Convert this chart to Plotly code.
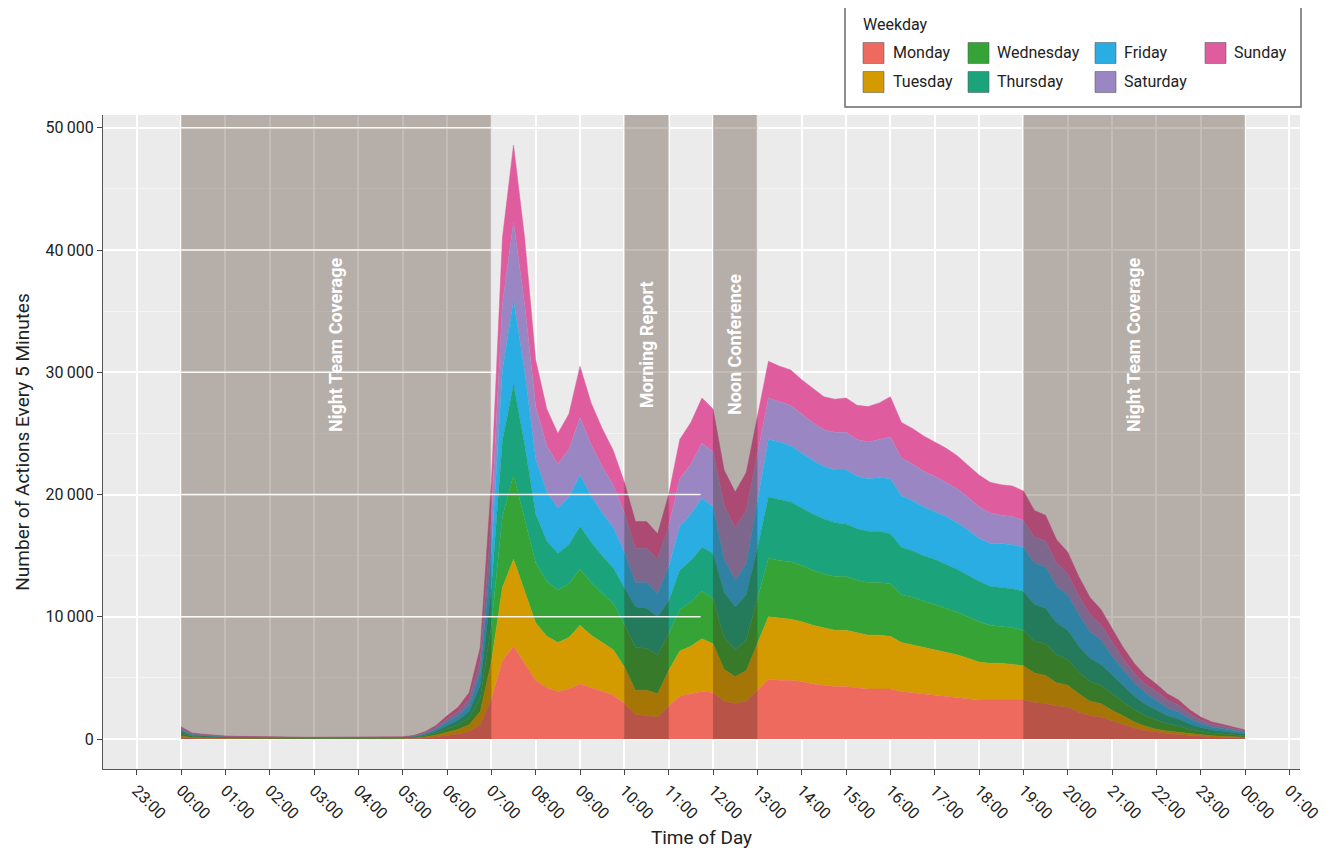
import plotly.graph_objects as go

# ---------------- data (actions per 5-min bin, sampled every 15 min, 00:00 .. 24:00) ----------------
time_hours = [i * 0.25 for i in range(97)]

monday = [130,70,55,40,35,30,30,25,25,25,20,20,20,20,25,20,20,20,25,20,
          25,45,90,170,300,420,620,1200,3300,6400,7600,6200,4800,4200,3900,4100,4500,4200,3900,3600,
          2900,2000,1900,1800,2700,3500,3700,3900,3800,3100,2900,3100,4000,4900,4800,4800,4700,4500,4400,4300,
          4300,4200,4100,4100,4100,3900,3800,3700,3600,3500,3400,3300,3200,3200,3200,3200,3200,3000,2900,2700,
          2600,2200,1900,1800,1500,1200,900,700,550,450,380,280,220,170,150,120,90]
tuesday = [120,60,55,40,35,30,25,25,25,20,20,25,20,20,20,20,25,20,20,20,
           25,40,85,155,270,370,540,1050,3000,6000,7100,5900,4700,4200,4000,4200,4800,4300,4000,3700,
           3000,2000,2100,1900,2900,3700,3900,4300,4000,2600,2200,2500,3800,5100,5100,5000,4900,4800,4700,4600,
           4600,4500,4400,4400,4300,4000,3900,3800,3700,3600,3500,3300,3100,3000,3000,2900,2800,2400,2300,1900,
           1800,1500,1200,1100,850,700,500,350,250,200,170,130,110,90,80,70,60]
wednesday = [200,90,65,50,40,35,30,30,25,25,25,20,25,25,20,25,20,25,25,25,
             30,45,90,160,280,380,560,1100,3000,5800,6900,5900,4900,4500,4300,4400,4600,4300,4000,3800,
             3500,3500,3400,3200,3000,3400,3600,3900,3700,2600,2200,2500,3700,4800,4700,4700,4600,4500,4400,4400,
             4400,4300,4300,4300,4300,3900,3900,3800,3700,3600,3500,3400,3300,3100,3000,3000,2900,2600,2600,2300,
             2100,1800,1600,1500,1350,1150,1000,850,750,600,520,400,300,230,200,170,130]
thursday = [190,80,65,45,35,35,30,25,25,25,25,25,20,25,25,20,25,25,20,25,
            25,45,85,155,270,370,540,1050,3100,6200,7400,6100,4000,3300,3000,3200,3500,3300,3100,2900,
            3000,3300,3300,3100,2700,3200,3400,3600,3700,3700,3500,3700,4100,5000,5000,4900,4700,4600,4500,4400,
            4300,4200,4200,4200,4100,3900,3800,3700,3700,3600,3500,3400,3300,3200,3200,3200,3200,3000,2900,2600,
            2400,2100,1900,1700,1550,1300,1100,950,800,650,580,430,320,250,210,180,130]
friday = [130,70,55,45,35,30,30,25,25,20,20,20,25,20,20,20,20,20,20,20,
          25,40,85,160,270,360,520,1050,2900,5800,6900,6000,4500,4000,3700,3900,4200,3800,3500,3300,
          2900,2000,2100,1900,2800,3600,3800,4000,3800,2700,2200,2500,3700,4700,4700,4600,4500,4400,4300,4300,
          4400,4300,4300,4400,4500,4200,4100,4000,3900,3900,3800,3700,3500,3500,3600,3600,3600,3400,3400,3000,
          2900,2600,2200,2000,1550,1300,1100,950,800,650,570,420,310,240,200,170,130]
saturday = [110,60,50,40,35,30,25,25,20,20,20,20,20,20,20,25,20,20,20,20,
            25,40,80,150,260,350,510,1000,2800,5400,6400,5500,4300,3800,3600,3900,4700,4200,3800,3500,
            3200,2800,2800,2800,3300,3900,4100,4500,4500,4400,4300,4400,4000,3400,3300,3300,3200,3100,3000,3100,
            3100,3000,3000,3100,3400,3100,3000,2900,2900,2800,2800,2700,2600,2500,2300,2300,2200,2100,2100,1900,
            1700,1500,1400,1200,1100,900,800,700,750,650,550,410,300,230,200,160,120]
sunday = [120,70,55,40,35,30,30,25,25,25,20,20,20,20,20,20,20,20,20,25,
          25,45,85,150,250,350,510,1050,2900,5400,6300,5400,3800,3000,2500,2900,4200,3400,3100,2800,
          2500,2200,2200,2100,2600,3200,3400,3700,3500,2900,2900,3100,3200,3000,2900,2900,2800,2800,2700,2700,
          2800,2800,2900,3000,3300,2900,2900,2900,2800,2800,2700,2600,2600,2500,2500,2500,2400,2200,2100,1900,
          1800,1600,1400,1300,1100,950,800,700,600,500,430,330,240,190,160,130,90]

day_names = ["Monday", "Tuesday", "Wednesday", "Thursday", "Friday", "Saturday", "Sunday"]
day_values = [monday, tuesday, wednesday, thursday, friday, saturday, sunday]
day_colors = ["#EE6A5F", "#D39B00", "#35A336", "#1BA37B", "#2AADE3", "#9A86C2", "#DF5C9E"]

# shaded periods (start hour, end hour, label)
periods = [(0, 7, "Night Team Coverage"), (10, 11, "Morning Report"),
           (12, 13, "Noon Conference"), (19, 24, "Night Team Coverage")]

tick_hours = list(range(-1, 26))
tick_text = ["23:00"] + ["%02d:00" % (h % 24) for h in range(0, 26)]
y_ticks = [0, 10000, 20000, 30000, 40000, 50000]
y_ticktext = ["0", "10\u2009000", "20\u2009000", "30\u2009000", "40\u2009000", "50\u2009000"]

# ---------------- figure ----------------
FONT = "Roboto, 'Open Sans', Arial, sans-serif"
OFF = 8                      # default body margin of the html page
W, H = 1334 - OFF, 855 - OFF
L, R, T, B = 103, 1300, 115, 769   # plot area in window pixels
X0, X1 = -1.76, 25.24
Y0, Y1 = -2450, 51050

def px(xp):
    return (xp - L) / (R - L)

def py(yp):
    return (B - yp) / (B - T)

fig = go.Figure()
for name, vals, col in zip(day_names, day_values, day_colors):
    fig.add_trace(go.Scatter(
        x=time_hours, y=vals, name=name, mode="lines",
        stackgroup="one", line=dict(width=0.5, color=col), fillcolor=col,
        showlegend=False))

shapes = []
annotations = []
for (a, b, label) in periods:
    shapes.append(dict(type="rect", xref="x", yref="y", x0=a, x1=b, y0=0, y1=Y1,
                       fillcolor="rgba(58,32,16,0.30)", line=dict(width=0), layer="above"))
    annotations.append(dict(x=(a + b) / 2, y=32250, xref="x", yref="y", text=label,
                            showarrow=False, textangle=-90,
                            font=dict(family=FONT, size=18, color="white", weight="bold")))

# white rule lines drawn on top in the morning section
for yv in [30000, 40000, 50000]:
    shapes.append(dict(type="line", xref="x", yref="y", x0=0, x1=7, y0=yv, y1=yv,
                       line=dict(color="rgba(255,255,255,0.9)", width=1.5), layer="above"))
for yv in [10000, 20000]:
    shapes.append(dict(type="line", xref="x", yref="y", x0=0, x1=11.72, y0=yv, y1=yv,
                       line=dict(color="rgba(255,255,255,0.9)", width=1.5), layer="above"))

# legend box (manual, 4 columns x 2 rows)
shapes.append(dict(type="rect", xref="paper", yref="paper", x0=px(845), x1=px(1301),
                   y0=py(107), y1=py(5), fillcolor="white",
                   line=dict(color="#6a6a6a", width=1.5), layer="above"))
annotations.append(dict(x=px(861), y=py(25), xref="paper", yref="paper", text="Weekday",
                        showarrow=False, xanchor="left", yanchor="middle",
                        font=dict(family=FONT, size=16, color="#222")))
col_sw = [863, 968, 1095, 1205]
col_tx = [891, 995, 1122, 1232]
row_y = [53, 82]
for i, (name, col) in enumerate(zip(day_names, day_colors)):
    c, r = i // 2, i % 2
    shapes.append(dict(type="rect", xref="paper", yref="paper",
                       x0=px(col_sw[c]), x1=px(col_sw[c] + 21),
                       y0=py(row_y[r] + 10.5), y1=py(row_y[r] - 10.5),
                       fillcolor=col, line=dict(color="rgba(90,90,90,0.55)", width=1), layer="above"))
    annotations.append(dict(x=px(col_tx[c]), y=py(row_y[r]), xref="paper", yref="paper", text=name,
                            showarrow=False, xanchor="left", yanchor="middle",
                            font=dict(family=FONT, size=16, color="#222")))

fig.update_layout(
    width=W, height=H,
    margin=dict(l=L - OFF, r=W - (R - OFF), t=T - OFF, b=H - (B - OFF), autoexpand=False),
    paper_bgcolor="white", plot_bgcolor="#EBEBEB",
    font=dict(family=FONT, size=16, color="#222"),
    shapes=shapes, annotations=annotations,
    showlegend=False,
)
fig.update_xaxes(
    range=[X0, X1], tickmode="array", tickvals=tick_hours, ticktext=tick_text,
    tickangle=45, ticks="outside", ticklen=5, tickcolor="#444",
    showline=True, linecolor="#555", linewidth=1, mirror=False,
    showgrid=True, gridcolor="white", gridwidth=1.6, zeroline=False,
    tickfont=dict(family=FONT, size=16, color="#222"),
    title=dict(text="Time of Day", font=dict(family=FONT, size=19, color="#222"), standoff=8),
    automargin=False,
)
fig.update_yaxes(
    range=[Y0, Y1], tickmode="array", tickvals=y_ticks, ticktext=y_ticktext,
    ticks="outside", ticklen=5, tickcolor="#444",
    showline=True, linecolor="#555", linewidth=1,
    showgrid=True, gridcolor="white", gridwidth=1.6, zeroline=False,
    minor=dict(tickvals=[5000, 15000, 25000, 35000, 45000], showgrid=True,
               gridcolor="rgba(255,255,255,0.45)", gridwidth=1, ticks=""),
    tickfont=dict(family=FONT, size=16, color="#222"),
    title=dict(text="Number of Actions Every 5 Minutes", font=dict(family=FONT, size=19, color="#222"),
               standoff=10),
    automargin=False,
)

fig.write_html("out.html")
